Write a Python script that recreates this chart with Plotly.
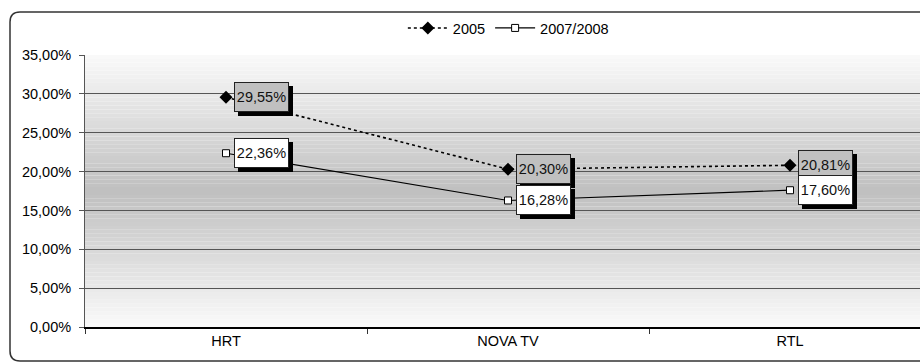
import plotly.graph_objects as go

categories = ["HRT", "NOVA TV", "RTL"]
values_2005 = [29.55, 20.30, 20.81]
values_2007_2008 = [22.36, 16.28, 17.60]
series_names = ["2005", "2007/2008"]
y_tick_values = [0, 5, 10, 15, 20, 25, 30, 35]
y_tick_labels = ["0,00%", "5,00%", "10,00%", "15,00%", "20,00%", "25,00%", "30,00%", "35,00%"]

def pct(v):
    return f"{v:.2f}".replace(".", ",") + "%"

FONT = "Liberation Sans, Arial, sans-serif"
FS = 14.5

fig = go.Figure()
fig.add_trace(go.Scatter(
    x=categories, y=values_2005, name=series_names[0], mode="lines+markers",
    line=dict(color="black", width=1.6, dash="dot"),
    marker=dict(symbol="diamond", size=10, color="black"),
))
fig.add_trace(go.Scatter(
    x=categories, y=values_2007_2008, name=series_names[1], mode="lines+markers",
    line=dict(color="black", width=1.2),
    marker=dict(symbol="square", size=7, color="white", line=dict(color="black", width=1)),
))

# gradient background bands (style only)
shapes = []
N = 70
ymax = 35.0
for i in range(N):
    y0 = ymax * i / N
    y1 = ymax * (i + 1) / N
    mid = (y0 + y1) / 2
    t = abs(mid - ymax / 2) / (ymax / 2)
    c = int(round(191 + (250 - 191) * t))
    shapes.append(dict(type="rect", xref="paper", yref="y", x0=0, x1=1, y0=y0, y1=y1,
                       fillcolor=f"rgb({c},{c},{c})", line=dict(width=0), layer="below"))

# outer rounded border
W, H = 920, 363
pl, pt, pb = 85, 55, 327
pw, ph = W - pl, pb - pt
def px(x): return (x - pl) / pw
def py(y): return (pb - y) / ph
L, T, B, R = 10, 12, 361, 960
r = 10
path = (f"M {px(R)},{py(T)} L {px(L + r)},{py(T)} Q {px(L)},{py(T)} {px(L)},{py(T + r)} "
        f"L {px(L)},{py(B - r)} Q {px(L)},{py(B)} {px(L + r)},{py(B)} L {px(R)},{py(B)}")
shapes.append(dict(type="path", xref="paper", yref="paper", path=path,
                   line=dict(color="#333333", width=1.5)))

annotations = []
for vals, bg in ((values_2005, "#c0c0c0"), (values_2007_2008, "white")):
    for c, v in zip(categories, vals):
        annotations.append(dict(x=c, y=v, xref="x", yref="y", text="", showarrow=False,
                                xanchor="left", yanchor="middle", xshift=12, yshift=-4,
                                width=51, height=26, bgcolor="black", borderpad=1,
                                borderwidth=1, bordercolor="black",
                                font=dict(family=FONT, size=FS)))
        annotations.append(dict(x=c, y=v, xref="x", yref="y", text=pct(v), showarrow=False,
                                xanchor="left", yanchor="middle", xshift=8,
                                width=51, height=26, bgcolor=bg, borderpad=1,
                                borderwidth=1, bordercolor="#222222",
                                font=dict(family=FONT, size=FS, color="#111111")))

x_range_end = 2.5 - (931 - 920) / 282

fig.update_layout(
    width=W, height=H,
    margin=dict(l=pl, r=0, t=pt, b=H - pb),
    paper_bgcolor="white", plot_bgcolor="white",
    font=dict(family=FONT, size=FS, color="black"),
    showlegend=True,
    legend=dict(orientation="h", x=0.507, xanchor="center", y=py(28), yanchor="middle",
                font=dict(family=FONT, size=FS), bgcolor="rgba(0,0,0,0)",
                itemwidth=40, tracegroupgap=0),
    shapes=shapes,
    annotations=annotations,
    xaxis=dict(type="category", range=[-0.5, x_range_end], tickson="boundaries",
               ticks="outside", ticklen=5, tickcolor="#333333", showgrid=False,
               showline=True, linecolor="black", linewidth=1.5, zeroline=False,
               tickfont=dict(family=FONT, size=FS)),
    yaxis=dict(range=[0, 35], tickvals=y_tick_values, ticktext=y_tick_labels,
               ticks="outside", ticklen=5, tickcolor="#555555", showgrid=True,
               gridcolor="#555555", gridwidth=1, showline=True, linecolor="#555555",
               linewidth=1, zeroline=False, ticklabelstandoff=5,
               tickfont=dict(family=FONT, size=FS)),
)

fig.write_html("out.html")
